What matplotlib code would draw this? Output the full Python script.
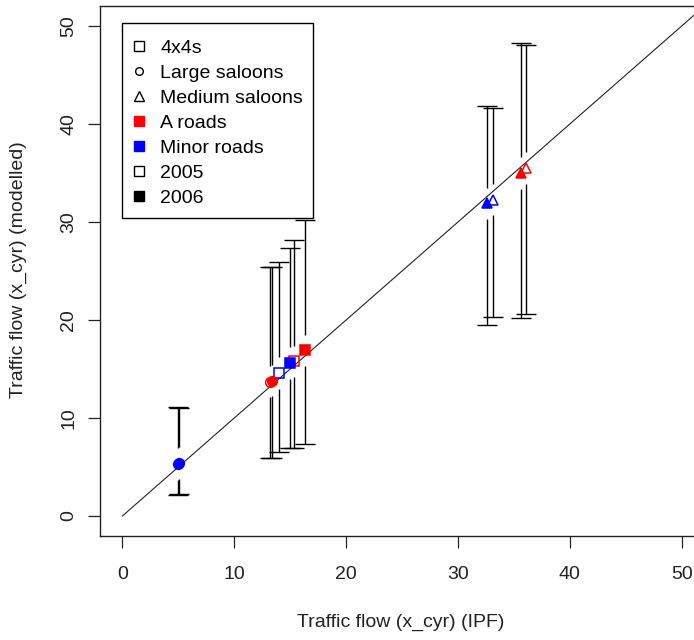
import matplotlib
matplotlib.use('Agg')
from matplotlib import pyplot as plt
from matplotlib.lines import Line2D
from matplotlib.patches import Rectangle

plt.rcParams['font.family'] = ['Liberation Sans', 'DejaVu Sans']

# one entry per vehicle / road / year combination
vehicle = ['4x4s'] * 4 + ['Large saloons'] * 4 + ['Medium saloons'] * 4
road = ['A', 'A', 'Minor', 'Minor'] * 3
year = [2005, 2006] * 6
ipf = [15.3, 16.3, 14.0, 15.0, 13.2, 13.4, 5.0, 5.1, 36.1, 35.6, 33.1, 32.6]
modelled = [15.8, 16.9, 14.6, 15.6, 13.7, 13.8, 5.3, 5.4, 35.5, 35.0, 32.3, 31.9]
lower = [6.9, 7.3, 6.5, 6.9, 5.9, 5.9, 2.1, 2.2, 20.6, 20.2, 20.3, 19.5]
upper = [28.2, 30.2, 25.9, 27.4, 25.4, 25.4, 11.1, 11.0, 48.1, 48.3, 41.6, 41.8]

ticks = [0, 10, 20, 30, 40, 50]

shapes = {'4x4s': 's', 'Large saloons': 'o', 'Medium saloons': '^'}
sizes = {'4x4s': 6.5, 'Large saloons': 7, 'Medium saloons': 7.5}
colours = {'A': 'red', 'Minor': 'blue'}
gap = 1.6  # gap around the point, like plotCI
fs = 14

fig = plt.figure(figsize=(6.94, 6.4), dpi=100)
ax = fig.add_axes([0.1441, 0.1625, 0.8703, 0.828])

# y = x reference line
ax.plot([0, 60], [0, 60], color='#222222', lw=0.8, zorder=1)

for i in range(len(ipf)):
    x, y = ipf[i], modelled[i]
    ax.vlines(x, lower[i], y - gap, color='black', lw=1.0, zorder=2)
    ax.vlines(x, y + gap, upper[i], color='black', lw=1.0, zorder=2)
    ax.plot([x, x], [lower[i], upper[i]], ls='none', marker='_', ms=14,
            mew=1.0, color='black', zorder=2)
    c = colours[road[i]]
    fc = c if year[i] == 2006 else 'none'
    ax.plot(x, y, ls='none', marker=shapes[vehicle[i]], ms=sizes[vehicle[i]],
            mec=c, mfc=fc, mew=1.1, zorder=3)

ax.set_xlim(-2, 52)
ax.set_ylim(-2.04, 52.04)
ax.set_xticks(ticks)
ax.set_yticks(ticks)
ax.tick_params(direction='out', length=8.5, width=0.9, labelsize=fs, colors='#222222')
ax.tick_params(axis='x', pad=13)
ax.tick_params(axis='y', pad=8)
for lab in ax.get_yticklabels():
    lab.set_rotation(90)
    lab.set_va('center')
for s in ax.spines.values():
    s.set_linewidth(1.0)
    s.set_color('#222222')

ax.set_xlabel('Traffic flow (x_cyr) (IPF)', fontsize=fs, color='#222222')
ax.set_ylabel('Traffic flow (x_cyr) (modelled)', fontsize=fs, color='#222222')
ax.xaxis.set_label_coords(0.498, -0.147)
ax.yaxis.set_label_coords(-0.121, 0.502)

handles = [
    Line2D([], [], ls='none', marker='s', ms=6.5, mec='black', mfc='none'),
    Line2D([], [], ls='none', marker='o', ms=5.5, mec='black', mfc='none'),
    Line2D([], [], ls='none', marker='^', ms=7, mec='black', mfc='none'),
    Line2D([], [], ls='none', marker='s', ms=6.5, mec='red', mfc='red'),
    Line2D([], [], ls='none', marker='s', ms=6.5, mec='blue', mfc='blue'),
    Line2D([], [], ls='none', marker='s', ms=6.5, mec='black', mfc='none'),
    Line2D([], [], ls='none', marker='s', ms=6.5, mec='black', mfc='black'),
]
labels = ['4x4s', 'Large saloons', 'Medium saloons', 'A roads', 'Minor roads', '2005', '2006']

# legend box drawn by hand, R style
fig.patches.append(Rectangle((122 / 694, 1 - 218 / 640), 191 / 694, 195 / 640,
                             transform=fig.transFigure, fill=False,
                             edgecolor='black', lw=1.0, zorder=5))
ax.legend(handles, labels, loc='upper left', bbox_to_anchor=(0.1898, 0.9388),
          bbox_transform=fig.transFigure, borderaxespad=0, borderpad=0,
          frameon=False, fontsize=fs, labelspacing=0.38, handlelength=0.75,
          handletextpad=0.71)

fig.savefig('out.png', dpi=100)
